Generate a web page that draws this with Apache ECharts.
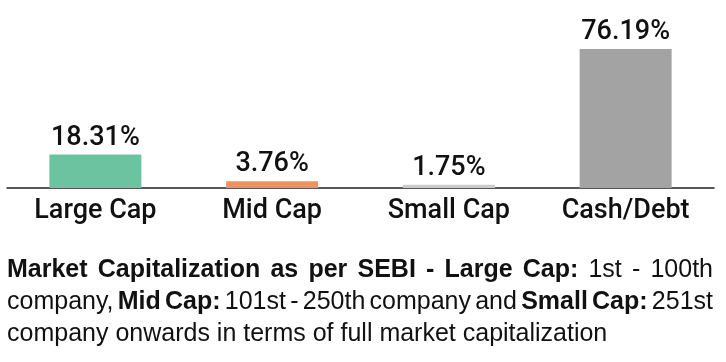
<!DOCTYPE html>
<html>
<head>
<meta charset="utf-8">
<script src="https://cdn.jsdelivr.net/npm/echarts@6/dist/echarts.min.js"></script>
<style>
html,body{margin:0;padding:0;background:#fff;}
#chart{width:726px;height:362px;}
</style>
</head>
<body>
<div id="chart"></div>
<script>
// ---- data ----
var categories = ['Large Cap', 'Mid Cap', 'Small Cap', 'Cash/Debt'];
var values = [18.31, 3.76, 1.75, 76.19];
var barColors = ['#6cc3a0', '#f0925e', '#cbcbcb', '#a3a3a3'];

// footnote: each line is a list of [word, bold]
var noteLine1 = [['Market',1],['Capitalization',1],['as',1],['per',1],['SEBI',1],['-',1],['Large',1],['Cap:',1],['1st',0],['-',0],['100th',0]];
var noteLine2 = [['company,',0],['Mid',1],['Cap:',1],['101st',0],['-',0],['250th',0],['company',0],['and',0],['Small',1],['Cap:',1],['251st',0]];
var noteLine3 = [['company',0],['onwards',0],['in',0],['terms',0],['of',0],['full',0],['market',0],['capitalization',0]];

var FONT_FAMILY = '"Liberation Sans Narrow", "Liberation Sans", sans-serif';
var NOTE_SIZE = 25;
var NOTE_LEFT = 7, NOTE_RIGHT = 713;

var cv = document.createElement('canvas').getContext('2d');
function fontStr(bold){ return (bold ? 'bold ' : '') + NOTE_SIZE + 'px ' + FONT_FAMILY; }
function measure(w, bold){ cv.font = fontStr(bold); return cv.measureText(w).width; }

function layoutLine(words, y, justify){
  var widths = words.map(function(w){ return measure(w[0], w[1]); });
  var total = widths.reduce(function(a,b){return a+b;}, 0);
  var gap = justify ? (NOTE_RIGHT - NOTE_LEFT - total) / (words.length - 1) : measure(' ', 0);
  var x = NOTE_LEFT, els = [];
  words.forEach(function(w, i){
    els.push({
      type: 'text', x: x, y: y, silent: true,
      style: { text: w[0], font: fontStr(w[1]), fill: '#111', textAlign: 'left', textVerticalAlign: 'middle' }
    });
    x += widths[i] + gap;
  });
  return els;
}

var graphics = [].concat(
  layoutLine(noteLine1, 270.5, true),
  layoutLine(noteLine2, 302.5, true),
  layoutLine(noteLine3, 334, false)
);

var chart = echarts.init(document.getElementById('chart'), null, {renderer: 'canvas'});
chart.setOption({
  animation: false,
  grid: { left: 7, right: 12, top: 49, bottom: 174, containLabel: false },
  xAxis: {
    type: 'category',
    data: categories,
    axisLine: { lineStyle: { color: '#222', width: 1.5 } },
    axisTick: { show: false },
    axisLabel: { color: '#111', fontSize: 27, fontFamily: 'Roboto', fontWeight: 500, margin: 10, interval: 0 }
  },
  yAxis: {
    type: 'value', min: 0, max: Math.max.apply(null, values), show: false,
    splitLine: { show: false }
  },
  series: [{
    type: 'bar',
    barWidth: 92,
    data: values.map(function(v, i){ return { value: v, itemStyle: { color: barColors[i] } }; }),
    label: {
      show: true, position: 'top', distance: 3,
      color: '#111', fontSize: 27, fontFamily: 'Roboto', fontWeight: 500,
      formatter: function(p){ return p.value.toFixed(2) + '%'; }
    }
  }],
  graphic: graphics
});
</script>
</body>
</html>
